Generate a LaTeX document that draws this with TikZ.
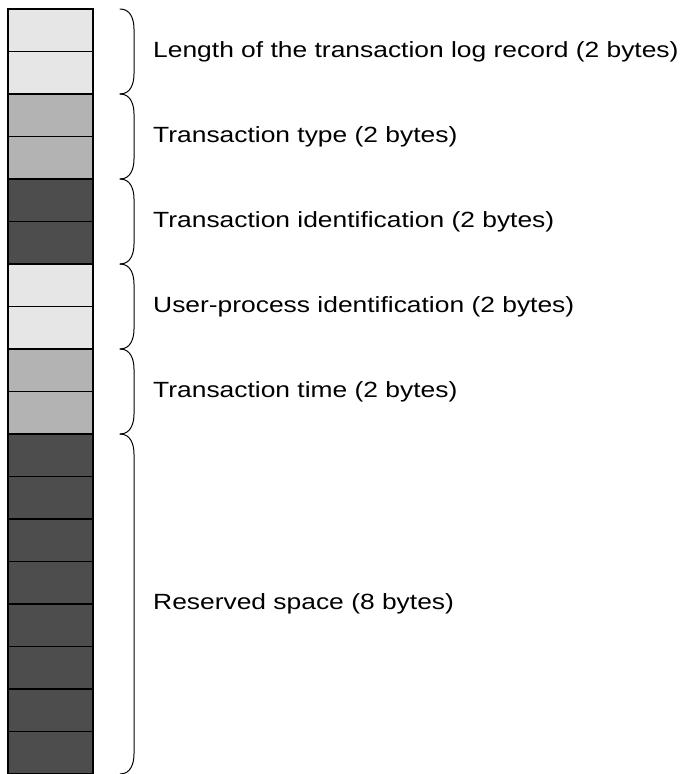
\documentclass[tikz,border=0pt]{standalone}
\usepackage{fontspec}
\setmainfont{Liberation Sans}[FakeStretch=1.2]
\usetikzlibrary{positioning,calc}
\definecolor{cellLight}{HTML}{E6E6E6}
\definecolor{cellMid}{HTML}{B3B3B3}
\definecolor{cellDark}{HTML}{4D4D4D}

\begin{document}
\begin{tikzpicture}[x=1pt,y=-1pt,node distance=0pt,every node/.append style={align=left},cell/.style={minimum width=85pt, minimum height=42.5pt, inner sep=0pt, outer sep=0pt},edge/.style={draw, line width=1.2pt},brace/.style={draw, line width=1pt, line cap=round},lbl/.style={anchor=west, inner sep=0pt, font=\fontsize{22}{26}\selectfont},]
    \useasboundingbox (0,0) rectangle (684,774);
    % the log record, one cell per byte
    \node [cell, fill=cellLight, anchor=north west] (c1) at (8,9) {};
    \foreach \col [count=\i from 2] in {cellLight,cellMid,cellMid,cellDark,cellDark,cellLight,cellLight,cellMid,cellMid,cellDark,cellDark,cellDark,cellDark,cellDark,cellDark,cellDark,cellDark}
    {
        \pgfmathtruncatemacro{\prev}{\i-1}
        \node [cell, fill=\col, below=of c\prev] (c\i) {};
    }
    \foreach \i in {1,...,18}
        \draw [edge] (c\i.north west) rectangle (c\i.south east);
    % braces and field names
    \foreach \a/\b/\txt [count=\k] in {1/2/Length of the transaction log record (2 bytes),3/4/Transaction type (2 bytes),5/6/Transaction identification (2 bytes),7/8/User-process identification (2 bytes),9/10/Transaction time (2 bytes),11/18/Reserved space (8 bytes)}
    {
        \coordinate (t\k) at ([xshift=27pt]c\a.north east);
        \coordinate (b\k) at ([xshift=27pt]c\b.south east);
        \draw [brace] (t\k) .. controls +(11pt,0) and +(0,9pt) .. ([shift={(14pt,-20pt)}]t\k) -- ([shift={(14pt,20pt)}]b\k) .. controls +(0,-9pt) and +(11pt,0) .. (b\k);
        \coordinate (m\k) at ($(c\a.north east)!0.5!(c\b.south east)$);
        \node [lbl] (lab\k) at ([xshift=60pt]m\k) {\txt};
    }
\end{tikzpicture}
\end{document}
